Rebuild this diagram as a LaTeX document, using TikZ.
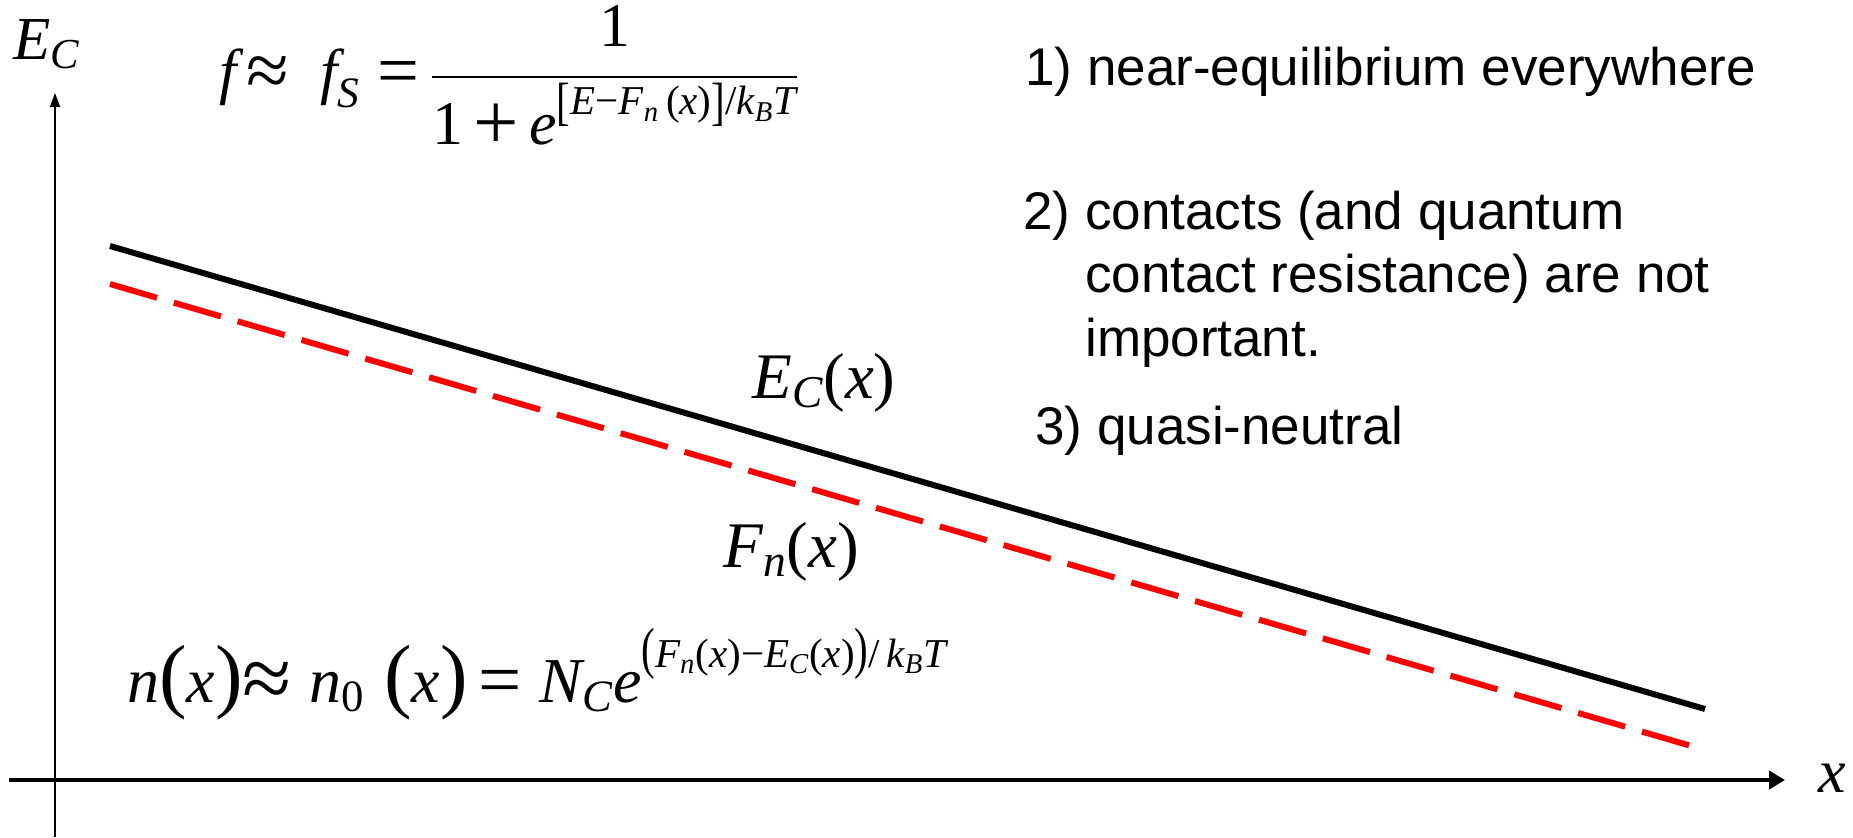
\RequirePackage{fix-cm}
\documentclass[tikz,border=0pt]{standalone}
\usepackage{amsmath}
\usepackage{graphicx}
\usepackage{fontspec}
\setmainfont{Liberation Serif}
\newfontfamily\arialf{Liberation Sans}
\usetikzlibrary{arrows.meta}
\newcommand\vi[1]{\text{\itshape #1}}
\newcommand\vu[1]{\text{\upshape #1}}
\newcommand\Lp{\text{\upshape\scalebox{1.29}{(}}}
\newcommand\Rp{\text{\upshape\scalebox{1.29}{)}}}
\newcommand\sLp{\scalebox{1}[1.38]{(}}
\newcommand\sRp{\scalebox{1}[1.38]{)}}
\newcommand\sLb{\text{\upshape\raisebox{-2.5pt}{\scalebox{1}[1.28]{[}}}}
\newcommand\sRb{\text{\upshape\raisebox{-2.5pt}{\scalebox{1}[1.28]{]}}}}
% scaled operator: #1 scale, #2 lowering, #3 glyph
\newcommand\Sc[3]{\text{\upshape\raisebox{-#2}{\scalebox{#1}{#3}}}}
\newcommand\expo[1]{\text{\fontsize{20.5}{24}\selectfont$#1$}}
\begin{document}
\begin{tikzpicture}[x=0.5pt,y=-0.5pt,
  txt/.style={font=\arialf\fontsize{26.5}{32}\selectfont, inner sep=0, anchor=base west},
  mth/.style={inner sep=0, anchor=base west},
  lbl/.style={inner sep=0, anchor=base west, font=\fontsize{32.5}{39}\selectfont},
  band/.style={line width=3pt},
  fermi/.style={line width=3pt, red, dash pattern=on 24.5pt off 8.75pt}]
\useasboundingbox (0,0) rectangle (1853,837);
% axes
\coordinate (xs) at (9,780);
\coordinate (xe) at (1785,780);
\coordinate (ys) at (55,837);
\coordinate (ye) at (55,93);
\draw[line width=2pt,-{Triangle[length=8pt,width=9pt]}] (xs) -- (xe);
\draw[line width=1pt,-{Triangle[length=7pt,width=5pt]}] (ys) -- (ye);
\node[mth, font=\fontsize{30.5}{36}\selectfont] (ylab) at (13,59) {$\vi{E}_{\vi{C}}$};
\node[inner sep=0, anchor=base, font=\fontsize{31}{37}\selectfont] (xlab) at (1832,792) {$\vi{x}$};
% bands
\coordinate (ec1) at (110,246);
\coordinate (ec2) at (1705,709);
\coordinate (fn1) at (110,284);
\coordinate (fn2) at (1705,750);
\draw[band] (ec1) -- (ec2);
\draw[fermi] (fn1) -- (fn2);
\node[lbl] (eclab) at (752,398) {$\vi{E}_{\vi{C}}\vu{(}\vi{x}\vu{)}$};
\node[lbl] (fnlab) at (723,567) {$\vi{F}_{\vi{n}}\vu{(}\vi{x}\vu{)}$};
% formulas
\node[mth, font=\fontsize{31}{37}\selectfont] (fs) at (219,92)
  {$\vi{f}\,\Sc{1.25}{0.065em}{≈}\ \ \vi{f}_{\vi{S}}\;\Sc{1.2}{0.05em}{=}\,\dfrac{\raisebox{2pt}{\upshape 1}}{\vu{1}\,\Sc{1.3}{0.08em}{+}\,\vi{e}^{\rule[-11.7pt]{0pt}{0pt}\expo{\sLb\vi{E}\vu{−}\vi{F}_{\vi{n}}\,\vu{(}\vi{x}\vu{)}\sRb\vu{/}\vi{k}_{\vi{B}}\vi{T}}}}$};
\node[mth, font=\fontsize{32}{38}\selectfont] (n0) at (127,702)
  {$\vi{n}\Lp\vi{x}\Rp\Sc{1.4}{0.1em}{≈}\;\vi{n}_{\vu{0}}\hspace{0.3em}\Lp\vi{x}\Rp\,\Sc{1.2}{0.05em}{=}\;\vi{N}_{\vi{C}}\vi{e}^{\rule[-14pt]{0pt}{0pt}\expo{\sLp\vi{F}_{\vi{n}}\vu{(}\vi{x}\vu{)}\vu{−}\vi{E}_{\vi{C}}\vu{(}\vi{x}\vu{)}\sRp\vu{/}\,\vi{k}_{\vi{B}}\vi{T}}}$};
% assumptions
\node[txt] (a1) at (1025,85) {1) near-equilibrium everywhere};
\node[txt] (a2) at (1023,229) {2) contacts (and quantum};
\node[txt] (a2b) at (1023,292) {\phantom{2) }contact resistance) are not};
\node[txt] (a2c) at (1023,356) {\phantom{2) }important.};
\node[txt] (a3) at (1035,444) {3) quasi-neutral};
\end{tikzpicture}
\end{document}
